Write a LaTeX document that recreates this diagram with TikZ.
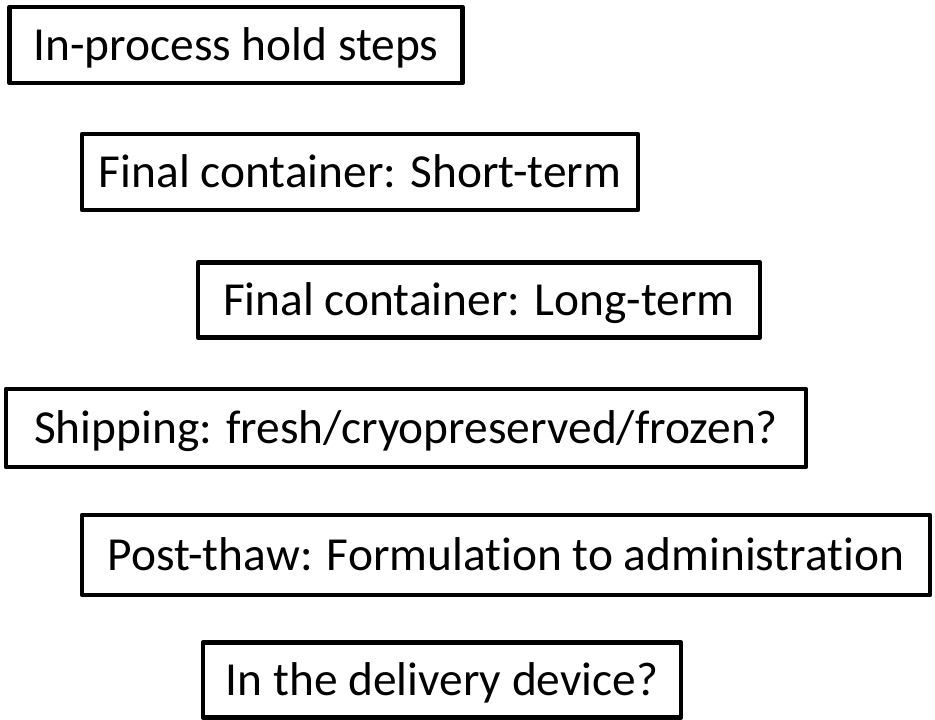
\documentclass[tikz,border=0pt]{standalone}
\usepackage{fontspec}
\setmainfont{Carlito}[Ligatures=NoCommon]
\usepackage{tikz}
\tikzset{holdbox/.style={draw, line width=4.5pt, line join=round, inner sep=0pt, text height=30pt, text depth=0pt, font=\fontsize{47.4}{50}\selectfont}}

\begin{document}
\begin{tikzpicture}[x=1pt, y=-1pt]
\useasboundingbox (0,0) rectangle (935,720);

\node[holdbox, minimum width=453, minimum height=76] (inproc) at (236,45) {In-process hold steps};
\node[holdbox, minimum width=556, minimum height=76] (shortterm) at (360,172) {Final container: Short-term};
\node[holdbox, minimum width=562, minimum height=75] (longterm) at (479,300) {Final container: Long-term};
\node[holdbox, minimum width=800, minimum height=78] (shipping) at (406,428) {Shipping: fresh/cryopreserved/frozen?};
\node[holdbox, minimum width=848, minimum height=80] (postthaw) at (506,555) {Post-thaw: Formulation to administration};
\node[holdbox, minimum width=478, minimum height=75] (device) at (442,680) {In the delivery device?};
\end{tikzpicture}
\end{document}
